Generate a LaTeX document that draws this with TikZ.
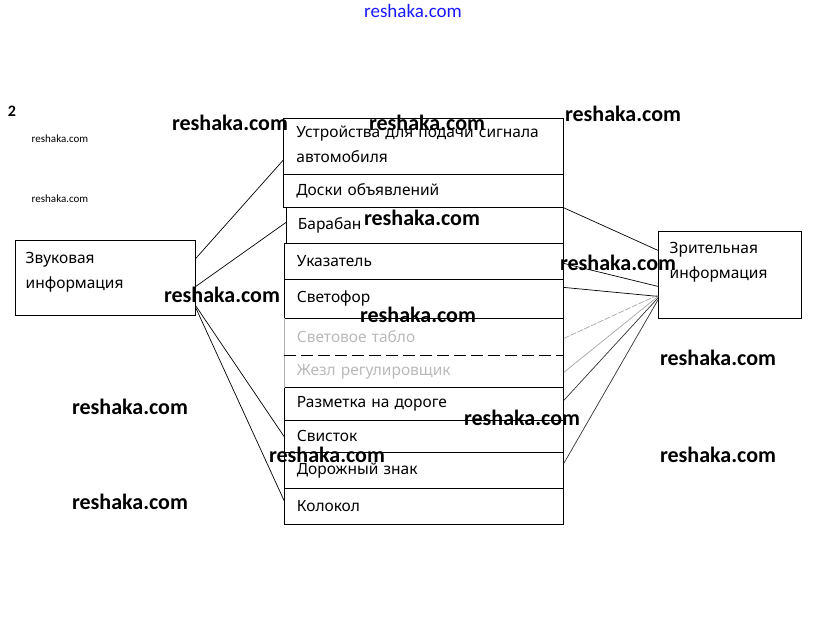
\documentclass[tikz,border=0pt]{standalone}
\usepackage{fontspec}
\setmainfont{Noto Sans}
\newfontfamily\wmfont{Carlito}
\usetikzlibrary{positioning,calc}

\tikzset{
  item/.style={draw, anchor=north west, minimum width=280pt, minimum height=#1,
    inner xsep=0pt, inner ysep=0pt, text width=254pt, align=left},
  faded/.style={item=#1, draw=none, text=gray!55},
  infobox/.style={draw, anchor=north west, inner sep=0pt, align=left},
  wm/.style={font=\wmfont\bfseries\fontsize{22}{22}\selectfont},
  wmsmall/.style={font=\wmfont\fontsize{11}{11}\selectfont},
  link/.style={line width=0.7pt},
  fadelink/.style={line width=0.7pt, draw=gray!70}
}

\begin{document}
\begin{tikzpicture}[x=1pt, y=-1pt, line width=0.8pt, font=\fontsize{15.5}{25}\selectfont]
\useasboundingbox (0,0) rectangle (823,630);

% sound / visual boxes
\node[infobox, minimum width=180pt, minimum height=75pt] (snd) at (15,240) {};
\node[anchor=west, align=left] (sndtxt) at (22,272) {Звуковая\\информация};
\node[infobox, minimum width=143pt, minimum height=87pt] (vis) at (658,231) {};
\node[anchor=west, align=left] (vistxt) at (666,262) {Зрительная\\информация};

% middle column
\node[item=56pt] (sig) at (283,118) {\mbox{}\\[-18pt]Устройства для подачи сигнала\\автомобиля};
\node[item=33pt] (board) at (283,174) {Доски объявлений};
\node[item=36pt, minimum width=277pt] (drum) at (286,207) {Барабан};
\node[item=36pt, minimum width=279pt] (pointer) at (284,243) {Указатель};
\node[item=39pt, minimum width=279pt] (tlight) at (284,279) {Светофор};
\node[faded=37pt, minimum width=279pt] (tablo) at (284,318) {Световое табло};
\node[faded=32pt, minimum width=279pt] (baton) at (284,355) {Жезл регулировщик};
\node[item=33pt, minimum width=279pt] (marking) at (284,387) {Разметка на дороге};
\node[item=32pt, minimum width=279pt] (whistle) at (284,420) {Свисток};
\node[item=36pt, minimum width=279pt] (sign) at (284,452) {Дорожный знак};
\node[item=36pt, minimum width=279pt] (bell) at (284,488) {Колокол};

% faded part of the column
\draw (tablo.north east) -- (baton.south east);
\draw[gray!60] (tablo.north west) -- (baton.south west);
\draw[dashed, dash pattern=on 12pt off 5pt] (tablo.south west) -- (tablo.south east);

% links from sound
\draw[link] ([yshift=19.5pt]snd.east) -- ([yshift=-14pt]sig.west);
\draw[link] ([yshift=-8.5pt]snd.east) -- ([yshift=3pt]drum.west);
\draw[link] ([yshift=-28pt]snd.east) -- (whistle.west);
\draw[link] ([yshift=-30pt]snd.east) -- ([yshift=6pt]bell.west);

% links to visual
\draw[link] (board.south east) -- ([yshift=24.5pt]vis.west);
\draw[link] ([yshift=-2pt]pointer.east) -- ([yshift=-11.5pt]vis.west);
\draw[link] ([yshift=11.5pt]tlight.east) -- ([yshift=-21.5pt]vis.west);
\draw[fadelink, dashed, dash pattern=on 6pt off 1.5pt] ([yshift=-1.5pt]tablo.east) -- ([yshift=-20pt]vis.west);
\draw[fadelink] ([yshift=-1pt]baton.east) -- ([yshift=-21.5pt]vis.west);
\draw[fadelink, draw=gray!40!black] ([yshift=3.5pt]marking.east) -- ([yshift=-23pt]vis.west);
\draw[fadelink, draw=gray!40!black] ([yshift=7pt]sign.east) -- ([yshift=-25pt]vis.west);

% number and watermarks
\node[font=\wmfont\bfseries\fontsize{16}{16}\selectfont] (num) at (12,111) {2};
\node[font=\wmfont\fontsize{19}{19}\selectfont, text=blue!90] (wmtop) at (413,11) {reshaka.com};
\node[wmsmall] (wms1) at (60,139) {reshaka.com};
\node[wmsmall] (wms2) at (60,199) {reshaka.com};
\node[wm] (wm1) at (230,123) {reshaka.com};
\node[wm] (wm2) at (427,123) {reshaka.com};
\node[wm] (wm3) at (623,114) {reshaka.com};
\node[wm] (wm4) at (422,218) {reshaka.com};
\node[wm] (wm5) at (618,263) {reshaka.com};
\node[wm] (wm6) at (222,295) {reshaka.com};
\node[wm] (wm7) at (418,315) {reshaka.com};
\node[wm] (wm8) at (718,358) {reshaka.com};
\node[wm] (wm9) at (130,407) {reshaka.com};
\node[wm] (wm10) at (522,418) {reshaka.com};
\node[wm] (wm11) at (327,455) {reshaka.com};
\node[wm] (wm12) at (718,455) {reshaka.com};
\node[wm] (wm13) at (130,502) {reshaka.com};
\end{tikzpicture}
\end{document}
